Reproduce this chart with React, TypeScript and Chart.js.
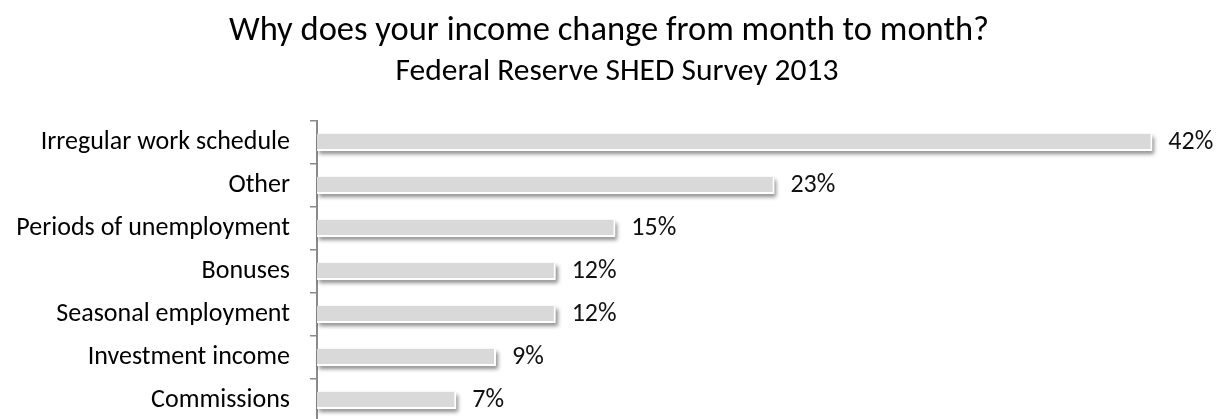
import React, { useEffect, useRef } from "react";
import { Chart, registerables } from "chart.js";

Chart.register(...registerables);

const categories = [
  "Irregular work schedule",
  "Other",
  "Periods of unemployment",
  "Bonuses",
  "Seasonal employment",
  "Investment income",
  "Commissions",
];
const values = [42, 23, 15, 12, 12, 9, 7];
const valueLabels = ["42%", "23%", "15%", "12%", "12%", "9%", "7%"];
const titleText = "Why does your income change from month to month?";
const subtitleText = "Federal Reserve SHED Survey 2013";

const FONT = "Calibri, Carlito, Lato, 'Open Sans', sans-serif";

const titles = {
  id: "titles",
  afterDraw(chart: any) {
    const ctx = chart.ctx;
    const cx = chart.width / 2;
    ctx.save();
    ctx.fillStyle = "#000000";
    ctx.textAlign = "center";
    ctx.textBaseline = "alphabetic";
    ctx.font = `34.5px ${FONT}`;
    ctx.fillText(titleText, cx, 40);
    ctx.font = `31.5px ${FONT}`;
    ctx.fillText(subtitleText, cx + 8, 80);
    ctx.restore();
  },
};

const barDecor = {
  id: "barDecor",
  beforeDatasetsDraw(chart: any) {
    const ctx = chart.ctx;
    const meta = chart.getDatasetMeta(0);
    meta.data.forEach((el: any) => {
      const p = el.getProps(["x", "y", "base", "height"], true);
      ctx.save();
      ctx.shadowColor = "rgba(0,0,0,0.45)";
      ctx.shadowBlur = 4;
      ctx.shadowOffsetX = 2;
      ctx.shadowOffsetY = 3;
      ctx.fillStyle = "#d9d9d9";
      ctx.fillRect(p.base, p.y - p.height / 2, p.x - p.base, p.height);
      ctx.restore();
    });
  },
  afterDatasetsDraw(chart: any) {
    const ctx = chart.ctx;
    const meta = chart.getDatasetMeta(0);
    ctx.save();
    ctx.font = `26px ${FONT}`;
    ctx.fillStyle = "#111111";
    ctx.textAlign = "left";
    ctx.textBaseline = "middle";
    meta.data.forEach((el: any, i: number) => {
      const p = el.getProps(["x", "y"], true);
      ctx.fillText(valueLabels[i], p.x + 16, p.y);
    });
    ctx.restore();
  },
};

export default function App() {
  const ref = useRef<HTMLCanvasElement | null>(null);
  useEffect(() => {
    if (!ref.current) return;
    const chart = new Chart(ref.current, {
      type: "bar",
      data: {
        labels: categories,
        datasets: [
          {
            data: values,
            backgroundColor: "#d9d9d9",
            borderColor: "#ffffff",
            borderWidth: { top: 0, left: 0, right: 2, bottom: 2 },
            borderSkipped: false,
            barPercentage: 0.4,
            categoryPercentage: 1,
          },
        ],
      },
      options: {
        indexAxis: "y",
        animation: false,
        responsive: false,
        layout: { padding: { left: 0, right: 6, top: 121, bottom: 8 } },
        plugins: {
          legend: { display: false },
          tooltip: { enabled: false },
          title: { display: false },
        },
        scales: {
          x: {
            display: false,
            min: 0,
            max: 45,
          },
          y: {
            afterFit: (scale: any) => {
              scale.width = 317;
              scale.paddingTop = 0;
              scale.paddingBottom = 0;
            },
            grid: {
              offset: true,
              drawOnChartArea: false,
              drawTicks: true,
              tickLength: 7,
              color: "#8a8a8a",
              lineWidth: 1.5,
            },
            border: { display: true, color: "#8a8a8a", width: 2 },
            ticks: {
              color: "#000000",
              padding: 20,
              font: { family: FONT, size: 26 },
            },
          },
        },
      },
      plugins: [barDecor, titles],
    });
    return () => chart.destroy();
  }, []);
  return (
    <div
      style={{
        position: "absolute",
        left: 0,
        top: 0,
        width: 1218,
        height: 419,
        overflow: "hidden",
        background: "#ffffff",
      }}
    >
      <canvas ref={ref} width={1218} height={430} style={{ width: 1218, height: 430 }} />
    </div>
  );
}
